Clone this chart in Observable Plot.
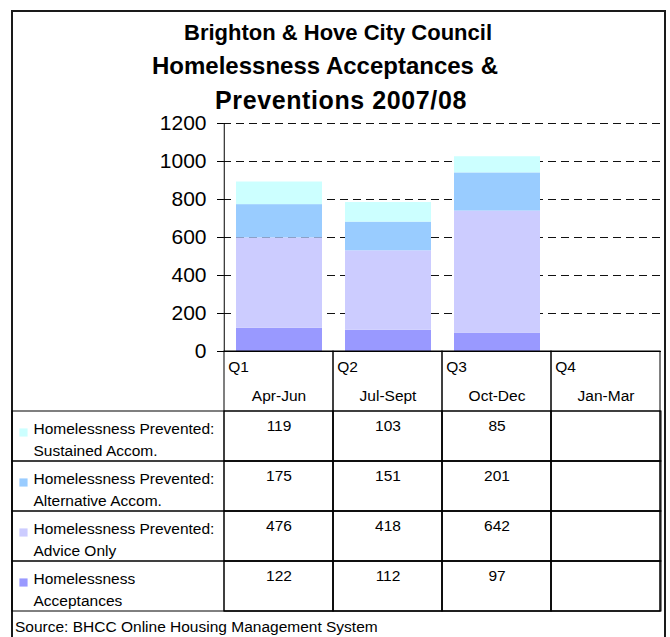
<!DOCTYPE html>
<html>
<head>
<meta charset="utf-8">
<script src="https://cdn.jsdelivr.net/npm/d3@7"></script>
<script src="https://cdn.jsdelivr.net/npm/@observablehq/plot@0.6"></script>
<style>
  html, body { margin: 0; padding: 0; background: #fff; overflow: hidden; }
  #wrap { position: relative; width: 670px; height: 637px; overflow: hidden; font-family: "Liberation Sans", Arial, sans-serif; color: #000; }
  #frame { position: absolute; left: 11px; top: 10px; width: 655px; height: 700px; border: 2px solid #1a1a1a; box-sizing: border-box; }
  .title { position: absolute; left: 12px; width: 652px; text-align: center; font-weight: bold; white-space: nowrap; }
  #chart, #table { position: absolute; left: 0; }
  #chart { top: 0; }
  #table { top: 351px; }
  #source { position: absolute; left: 15px; top: 617px; font-size: 15.5px; line-height: 20px; white-space: nowrap; }
</style>
</head>
<body>
<div id="wrap">
  <div id="frame"></div>
  <div id="chart"></div>
  <div id="table"></div>
  <div class="title" style="top:18px;font-size:22px;line-height:30px;">Brighton &amp; Hove City Council</div>
  <div class="title" style="top:51px;font-size:24px;line-height:30px;left:-1px;">Homelessness Acceptances &amp;</div>
  <div class="title" style="top:85px;font-size:25px;line-height:30px;letter-spacing:0.6px;left:15px;">Preventions 2007/08</div>
  <div id="source">Source: BHCC Online Housing Management System</div>
</div>
<script>
// ---- data ----
const quarters = ["Q1", "Q2", "Q3", "Q4"];
const months = ["Apr-Jun", "Jul-Sept", "Oct-Dec", "Jan-Mar"];
// series in stacking order (bottom to top)
const series = [
  "Homelessness Acceptances",
  "Homelessness Prevented: Advice Only",
  "Homelessness Prevented: Alternative Accom.",
  "Homelessness Prevented: Sustained Accom."
];
const seriesTableLabels = [
  "Homelessness\nAcceptances",
  "Homelessness Prevented:\nAdvice Only",
  "Homelessness Prevented:\nAlternative Accom.",
  "Homelessness Prevented:\nSustained Accom."
];
const acceptances = [122, 112, 97, null];
const adviceOnly = [476, 418, 642, null];
const alternativeAccom = [175, 151, 201, null];
const sustainedAccom = [119, 103, 85, null];
const seriesColors = ["#9999FF", "#CCCCFF", "#99CCFF", "#CCFFFF"];
const yTicks = [0, 200, 400, 600, 800, 1000, 1200];
const sourceNote = "Source: BHCC Online Housing Management System";

// ---- derived table ----
const valuesBySeries = [acceptances, adviceOnly, alternativeAccom, sustainedAccom];
const cells = [];
series.forEach((s, i) => quarters.forEach((q, j) => cells.push({series: s, quarter: q, value: valuesBySeries[i][j]})));
const barData = cells.filter(d => d.value != null);
const tableOrder = series.slice().reverse();
const labelOf = Object.fromEntries(series.map((s, i) => [s, seriesTableLabels[i]]));
const monthOf = Object.fromEntries(quarters.map((q, i) => [q, months[i]]));

// ---- layout ----
const W = 670, ML = 223, MR = 9;
const bw = (W - ML - MR) / quarters.length;
const font = "Liberation Sans, Arial, sans-serif";
const color = {domain: series, range: seriesColors};

const chart = Plot.plot({
  width: W, height: 352,
  marginTop: 123, marginBottom: 1, marginLeft: ML, marginRight: MR,
  style: {background: "none", fontFamily: font, overflow: "visible", color: "#000"},
  x: {domain: quarters, padding: 0, axis: null},
  y: {domain: [0, 1200], axis: null},
  color,
  marks: [
    Plot.ruleY(yTicks.filter(d => d > 0), {stroke: "#111", strokeDasharray: "8,5"}),
    Plot.barY(barData, {x: "quarter", y: "value", fill: "series", insetLeft: 12, insetRight: 11}),
    Plot.axisY({ticks: yTicks, tickSize: 6, tickPadding: 11, fontSize: 21, stroke: "#000", label: null, tickFormat: d => String(d)}),
    Plot.ruleX([quarters[0]], {y1: 0, y2: 1200, dx: -bw / 2, stroke: "#000"}),
    Plot.ruleY([0], {stroke: "#000"})
  ]
});
document.getElementById("chart").append(chart);

const table = Plot.plot({
  width: W, height: 260,
  marginTop: 60, marginBottom: 0, marginLeft: ML, marginRight: MR,
  style: {background: "none", fontFamily: font, overflow: "visible", color: "#000"},
  x: {domain: quarters, padding: 0, axis: null},
  y: {domain: tableOrder, padding: 0, axis: null},
  color,
  marks: [
    Plot.cell(quarters, {x: d => d, fill: "none", stroke: "#000", inset: 0, insetTop: -60}),
    Plot.cell(tableOrder, {y: d => d, fill: "none", stroke: "#000", inset: 0, insetLeft: -(ML - 12)}),
    Plot.cell(cells, {x: "quarter", y: "series", fill: "none", stroke: "#000", inset: 0}),
    Plot.text(quarters, {x: d => d, text: d => d, frameAnchor: "top", dy: -51, dx: -bw / 2 + 4, textAnchor: "start", fontSize: 15.5}),
    Plot.text(quarters, {x: d => d, text: d => monthOf[d], frameAnchor: "top", dy: -22, fontSize: 15.5}),
    Plot.dot(tableOrder, {y: d => d, fill: d => d, frameAnchor: "left", dx: -(ML - 23), dy: -4, symbol: "square", r: 4.6, stroke: null}),
    Plot.text(tableOrder, {y: d => d, text: d => labelOf[d], frameAnchor: "left", dx: -(ML - 33), textAnchor: "start", lineAnchor: "middle", lineHeight: 1.42, dy: 1, fontSize: 15.5}),
    Plot.text(barData, {x: "quarter", y: "series", text: d => String(d.value), dy: -10, fontSize: 15.5})
  ]
});
document.getElementById("table").append(table);
document.getElementById("source").textContent = sourceNote;
</script>
</body>
</html>
